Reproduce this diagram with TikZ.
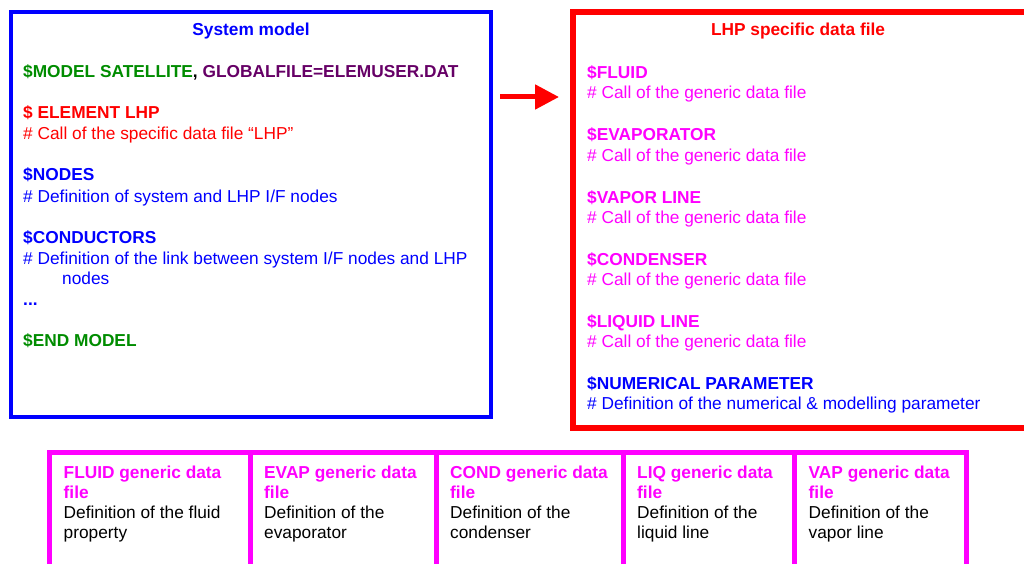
\documentclass[tikz,border=0pt]{standalone}
\usepackage{fontspec}
\setmainfont{Liberation Sans}
\usepackage{xcolor}
\usetikzlibrary{arrows.meta,positioning}

\definecolor{sysblue}{RGB}{0,0,255}
\definecolor{lhpred}{RGB}{255,0,0}
\definecolor{genmag}{RGB}{255,0,255}
\definecolor{cmdgreen}{RGB}{0,140,0}
\definecolor{filepurple}{RGB}{102,0,102}

\tikzset{
  line/.style={anchor=base west, inner sep=0pt, font=\fontsize{17.3}{20}\selectfont},
  head/.style={line, font=\fontsize{17.3}{20}\selectfont\bfseries},
  frame/.style={draw, inner sep=0pt, outer sep=0pt, anchor=north west},
}

\begin{document}
\begin{tikzpicture}[x=1pt, y=-1pt]
  \useasboundingbox (0,0) rectangle (1024,564);
  \clip (0,0) rectangle (1024,564);

  % frames
  \node[frame, draw=sysblue, line width=4pt, minimum width=480pt, minimum height=405pt] (sys) at (11,12) {};
  \node[frame, draw=lhpred, line width=6pt, minimum width=470pt, minimum height=416pt] (lhp) at (573,12) {};
  \foreach \nm/\x/\w in {gfluid/49.5/200.5pt, gevap/250/186pt, gcond/436/187pt, gliq/623/171.5pt, gvap/794.5/172pt} {
    \node[frame, draw=genmag, line width=5pt, minimum width=\w, minimum height=150pt] (\nm) at (\x,452) {};
  }

  % system model
  \node[head, sysblue, anchor=base] (systitle) at (251,36) {System model};
  \node[head] (sysmodel) at (23,78) {\color{cmdgreen}\$MODEL SATELLITE\color{black}, \color{filepurple}GLOBALFILE=ELEMUSER.DAT};
  \node[head, lhpred] (syselem) at (23,119) {\$ ELEMENT LHP};
  \node[line, lhpred] (syselemc) at (23,140) {\# Call of the specific data file “LHP”};
  \node[head, sysblue] (sysnodes) at (23,181) {\$NODES};
  \node[line, sysblue] (sysnodesc) at (23,202) {\# Definition of system and LHP I/F nodes};
  \node[head, sysblue] (syscond) at (23,243) {\$CONDUCTORS};
  \node[line, sysblue] (syscondc) at (23,264) {\# Definition of the link between system I/F nodes and LHP};
  \node[line, sysblue] (syscondd) at (62,284) {nodes};
  \node[head, sysblue] (sysdots) at (23,305) {...};
  \node[head, cmdgreen] (sysend) at (23,346) {\$END MODEL};

  % LHP specific data file
  \node[head, lhpred, anchor=base] (lhptitle) at (798,36) {LHP specific data file};
  \foreach \nm/\txt [count=\i from 0] in {fluid/FLUID, evap/EVAPORATOR, vap/VAPOR LINE, cond/CONDENSER, liq/LIQUID LINE} {
    \node[head, genmag] (k\nm) at (587,79+62*\i) {\$\txt};
    \node[line, genmag] (c\nm) at (587,99+62*\i) {\# Call of the generic data file};
  }
  \node[head, sysblue] (knum) at (587,389) {\$NUMERICAL PARAMETER};
  \node[line, sysblue] (cnum) at (587,409) {\# Definition of the numerical \& modelling parameter};

  % call arrow
  \coordinate (arry) at (0,97);
  \draw[lhpred, line width=5pt, -{Triangle[length=24pt, width=24pt]}, shorten <=9pt, shorten >=14pt]
    (sys.east |- arry) -- (lhp.west |- arry);

  % generic data files
  \foreach \nm/\x/\ta/\da/\db in {gfluid/49.5/FLUID/Definition of the fluid/property,
      gevap/250/EVAP/Definition of the/evaporator, gcond/436/COND/Definition of the/condenser,
      gliq/623/LIQ/Definition of the/liquid line, gvap/794.5/VAP/Definition of the/vapor line} {
    \node[head, genmag] (\nm-a) at (\x+14,478) {\ta{} generic data};
    \node[head, genmag] (\nm-b) at (\x+14,498) {file};
    \node[line] (\nm-c) at (\x+14,518) {\da};
    \node[line] (\nm-d) at (\x+14,538) {\db};
  }
\end{tikzpicture}
\end{document}
